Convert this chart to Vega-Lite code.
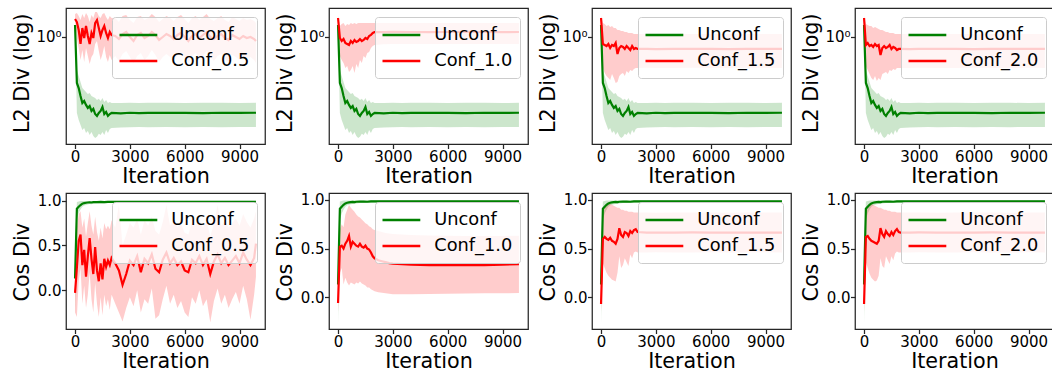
{
  "$schema": "https://vega.github.io/schema/vega-lite/v6.json",
  "background": "white",
  "padding": {"left": 10, "top": 7, "right": 0, "bottom": 0},
  "datasets": {
    "d": [
      {"m":"L2","s":"Unconf","x":0,"y":1.154,"lo":1.127,"hi":1.182},
      {"m":"L2","s":"Unconf","x":100,"y":0.578,"lo":0.404,"hi":0.675},
      {"m":"L2","s":"Unconf","x":200,"y":0.544,"lo":0.372,"hi":0.628},
      {"m":"L2","s":"Unconf","x":300,"y":0.495,"lo":0.350,"hi":0.585},
      {"m":"L2","s":"Unconf","x":400,"y":0.455,"lo":0.330,"hi":0.544},
      {"m":"L2","s":"Unconf","x":500,"y":0.466,"lo":0.338,"hi":0.531},
      {"m":"L2","s":"Unconf","x":600,"y":0.445,"lo":0.318,"hi":0.519},
      {"m":"L2","s":"Unconf","x":700,"y":0.429,"lo":0.326,"hi":0.507},
      {"m":"L2","s":"Unconf","x":800,"y":0.439,"lo":0.311,"hi":0.513},
      {"m":"L2","s":"Unconf","x":900,"y":0.414,"lo":0.322,"hi":0.495},
      {"m":"L2","s":"Unconf","x":1000,"y":0.424,"lo":0.307,"hi":0.489},
      {"m":"L2","s":"Unconf","x":1100,"y":0.399,"lo":0.300,"hi":0.483},
      {"m":"L2","s":"Unconf","x":1200,"y":0.390,"lo":0.304,"hi":0.472},
      {"m":"L2","s":"Unconf","x":1300,"y":0.404,"lo":0.315,"hi":0.478},
      {"m":"L2","s":"Unconf","x":1400,"y":0.414,"lo":0.311,"hi":0.466},
      {"m":"L2","s":"Unconf","x":1500,"y":0.434,"lo":0.322,"hi":0.483},
      {"m":"L2","s":"Unconf","x":1600,"y":0.399,"lo":0.311,"hi":0.461},
      {"m":"L2","s":"Unconf","x":1700,"y":0.409,"lo":0.330,"hi":0.472},
      {"m":"L2","s":"Unconf","x":1800,"y":0.390,"lo":0.318,"hi":0.455},
      {"m":"L2","s":"Unconf","x":1900,"y":0.399,"lo":0.334,"hi":0.461},
      {"m":"L2","s":"Unconf","x":2000,"y":0.404,"lo":0.338,"hi":0.455},
      {"m":"L2","s":"Unconf","x":2500,"y":0.402,"lo":0.340,"hi":0.455},
      {"m":"L2","s":"Unconf","x":3000,"y":0.405,"lo":0.341,"hi":0.456},
      {"m":"L2","s":"Unconf","x":3500,"y":0.403,"lo":0.342,"hi":0.455},
      {"m":"L2","s":"Unconf","x":4000,"y":0.404,"lo":0.341,"hi":0.456},
      {"m":"L2","s":"Unconf","x":5000,"y":0.405,"lo":0.342,"hi":0.456},
      {"m":"L2","s":"Unconf","x":6000,"y":0.404,"lo":0.341,"hi":0.455},
      {"m":"L2","s":"Unconf","x":7000,"y":0.403,"lo":0.342,"hi":0.456},
      {"m":"L2","s":"Unconf","x":8000,"y":0.405,"lo":0.341,"hi":0.456},
      {"m":"L2","s":"Unconf","x":9000,"y":0.404,"lo":0.342,"hi":0.455},
      {"m":"L2","s":"Unconf","x":9900,"y":0.405,"lo":0.342,"hi":0.456},

      {"m":"Cos","s":"Unconf","x":0,"y":0.13,"lo":-0.265,"hi":0.45},
      {"m":"Cos","s":"Unconf","x":100,"y":0.91,"lo":0.80,"hi":0.985},
      {"m":"Cos","s":"Unconf","x":200,"y":0.93,"lo":0.86,"hi":0.99},
      {"m":"Cos","s":"Unconf","x":300,"y":0.95,"lo":0.90,"hi":0.995},
      {"m":"Cos","s":"Unconf","x":400,"y":0.965,"lo":0.93,"hi":0.995},
      {"m":"Cos","s":"Unconf","x":500,"y":0.972,"lo":0.945,"hi":0.995},
      {"m":"Cos","s":"Unconf","x":600,"y":0.975,"lo":0.95,"hi":0.995},
      {"m":"Cos","s":"Unconf","x":700,"y":0.978,"lo":0.955,"hi":0.995},
      {"m":"Cos","s":"Unconf","x":800,"y":0.98,"lo":0.96,"hi":0.995},
      {"m":"Cos","s":"Unconf","x":900,"y":0.978,"lo":0.958,"hi":0.995},
      {"m":"Cos","s":"Unconf","x":1000,"y":0.982,"lo":0.965,"hi":0.996},
      {"m":"Cos","s":"Unconf","x":1200,"y":0.983,"lo":0.968,"hi":0.996},
      {"m":"Cos","s":"Unconf","x":1400,"y":0.984,"lo":0.97,"hi":0.996},
      {"m":"Cos","s":"Unconf","x":1600,"y":0.982,"lo":0.968,"hi":0.996},
      {"m":"Cos","s":"Unconf","x":1800,"y":0.985,"lo":0.972,"hi":0.997},
      {"m":"Cos","s":"Unconf","x":2000,"y":0.985,"lo":0.973,"hi":0.997},
      {"m":"Cos","s":"Unconf","x":3000,"y":0.985,"lo":0.973,"hi":0.997},
      {"m":"Cos","s":"Unconf","x":5000,"y":0.985,"lo":0.973,"hi":0.997},
      {"m":"Cos","s":"Unconf","x":7000,"y":0.985,"lo":0.973,"hi":0.997},
      {"m":"Cos","s":"Unconf","x":9900,"y":0.985,"lo":0.973,"hi":0.997},

      {"m":"L2","s":"Conf_0.5","x":0,"y":1.239,"lo":1.195,"hi":1.315},
      {"m":"L2","s":"Conf_0.5","x":100,"y":1.195,"lo":0.988,"hi":1.331},
      {"m":"L2","s":"Conf_0.5","x":200,"y":1.087,"lo":0.877,"hi":1.284},
      {"m":"L2","s":"Conf_0.5","x":300,"y":0.920,"lo":0.760,"hi":1.224},
      {"m":"L2","s":"Conf_0.5","x":400,"y":1.113,"lo":0.856,"hi":1.315},
      {"m":"L2","s":"Conf_0.5","x":500,"y":0.988,"lo":0.742,"hi":1.254},
      {"m":"L2","s":"Conf_0.5","x":600,"y":1.140,"lo":0.877,"hi":1.331},
      {"m":"L2","s":"Conf_0.5","x":700,"y":1.012,"lo":0.797,"hi":1.284},
      {"m":"L2","s":"Conf_0.5","x":800,"y":0.920,"lo":0.725,"hi":1.195},
      {"m":"L2","s":"Conf_0.5","x":900,"y":1.049,"lo":0.788,"hi":1.299},
      {"m":"L2","s":"Conf_0.5","x":1000,"y":0.988,"lo":0.816,"hi":1.254},
      {"m":"L2","s":"Conf_0.5","x":1100,"y":1.181,"lo":0.920,"hi":1.347},
      {"m":"L2","s":"Conf_0.5","x":1200,"y":1.224,"lo":0.953,"hi":1.347},
      {"m":"L2","s":"Conf_0.5","x":1300,"y":1.113,"lo":0.846,"hi":1.284},
      {"m":"L2","s":"Conf_0.5","x":1400,"y":1.012,"lo":0.760,"hi":1.254},
      {"m":"L2","s":"Conf_0.5","x":1500,"y":1.087,"lo":0.816,"hi":1.315},
      {"m":"L2","s":"Conf_0.5","x":1600,"y":1.140,"lo":0.898,"hi":1.331},
      {"m":"L2","s":"Conf_0.5","x":1700,"y":1.049,"lo":0.788,"hi":1.269},
      {"m":"L2","s":"Conf_0.5","x":1800,"y":0.988,"lo":0.742,"hi":1.224},
      {"m":"L2","s":"Conf_0.5","x":1900,"y":1.061,"lo":0.807,"hi":1.284},
      {"m":"L2","s":"Conf_0.5","x":2000,"y":1.024,"lo":0.760,"hi":1.254},
      {"m":"L2","s":"Conf_0.5","x":2200,"y":1.012,"lo":0.797,"hi":1.254},
      {"m":"L2","s":"Conf_0.5","x":2400,"y":0.976,"lo":0.751,"hi":1.195},
      {"m":"L2","s":"Conf_0.5","x":2600,"y":1.036,"lo":0.816,"hi":1.284},
      {"m":"L2","s":"Conf_0.5","x":2800,"y":1.061,"lo":0.846,"hi":1.299},
      {"m":"L2","s":"Conf_0.5","x":3000,"y":1.000,"lo":0.788,"hi":1.224},
      {"m":"L2","s":"Conf_0.5","x":3200,"y":0.953,"lo":0.733,"hi":1.181},
      {"m":"L2","s":"Conf_0.5","x":3400,"y":1.024,"lo":0.797,"hi":1.269},
      {"m":"L2","s":"Conf_0.5","x":3600,"y":1.049,"lo":0.826,"hi":1.284},
      {"m":"L2","s":"Conf_0.5","x":3800,"y":0.988,"lo":0.760,"hi":1.224},
      {"m":"L2","s":"Conf_0.5","x":4000,"y":1.012,"lo":0.797,"hi":1.254},
      {"m":"L2","s":"Conf_0.5","x":4200,"y":1.061,"lo":0.856,"hi":1.315},
      {"m":"L2","s":"Conf_0.5","x":4400,"y":1.024,"lo":0.807,"hi":1.269},
      {"m":"L2","s":"Conf_0.5","x":4600,"y":0.965,"lo":0.742,"hi":1.195},
      {"m":"L2","s":"Conf_0.5","x":4800,"y":1.000,"lo":0.788,"hi":1.239},
      {"m":"L2","s":"Conf_0.5","x":5000,"y":1.036,"lo":0.816,"hi":1.284},
      {"m":"L2","s":"Conf_0.5","x":5200,"y":1.012,"lo":0.788,"hi":1.254},
      {"m":"L2","s":"Conf_0.5","x":5400,"y":0.976,"lo":0.760,"hi":1.210},
      {"m":"L2","s":"Conf_0.5","x":5600,"y":1.024,"lo":0.797,"hi":1.269},
      {"m":"L2","s":"Conf_0.5","x":5800,"y":1.049,"lo":0.836,"hi":1.299},
      {"m":"L2","s":"Conf_0.5","x":6000,"y":1.000,"lo":0.778,"hi":1.239},
      {"m":"L2","s":"Conf_0.5","x":6200,"y":0.953,"lo":0.733,"hi":1.181},
      {"m":"L2","s":"Conf_0.5","x":6400,"y":1.012,"lo":0.797,"hi":1.254},
      {"m":"L2","s":"Conf_0.5","x":6600,"y":1.036,"lo":0.826,"hi":1.284},
      {"m":"L2","s":"Conf_0.5","x":6800,"y":0.988,"lo":0.769,"hi":1.224},
      {"m":"L2","s":"Conf_0.5","x":7000,"y":1.024,"lo":0.797,"hi":1.269},
      {"m":"L2","s":"Conf_0.5","x":7200,"y":1.061,"lo":0.846,"hi":1.315},
      {"m":"L2","s":"Conf_0.5","x":7400,"y":1.000,"lo":0.788,"hi":1.239},
      {"m":"L2","s":"Conf_0.5","x":7600,"y":0.976,"lo":0.751,"hi":1.210},
      {"m":"L2","s":"Conf_0.5","x":7800,"y":1.012,"lo":0.797,"hi":1.254},
      {"m":"L2","s":"Conf_0.5","x":8000,"y":1.036,"lo":0.816,"hi":1.284},
      {"m":"L2","s":"Conf_0.5","x":8200,"y":0.988,"lo":0.769,"hi":1.224},
      {"m":"L2","s":"Conf_0.5","x":8400,"y":0.965,"lo":0.742,"hi":1.195},
      {"m":"L2","s":"Conf_0.5","x":8600,"y":1.024,"lo":0.807,"hi":1.269},
      {"m":"L2","s":"Conf_0.5","x":8800,"y":1.000,"lo":0.788,"hi":1.239},
      {"m":"L2","s":"Conf_0.5","x":9000,"y":0.976,"lo":0.760,"hi":1.210},
      {"m":"L2","s":"Conf_0.5","x":9200,"y":1.012,"lo":0.797,"hi":1.254},
      {"m":"L2","s":"Conf_0.5","x":9400,"y":0.988,"lo":0.778,"hi":1.224},
      {"m":"L2","s":"Conf_0.5","x":9600,"y":1.000,"lo":0.788,"hi":1.239},
      {"m":"L2","s":"Conf_0.5","x":9800,"y":0.976,"lo":0.760,"hi":1.210},
      {"m":"L2","s":"Conf_0.5","x":9900,"y":0.953,"lo":0.733,"hi":1.181},

      {"m":"L2","s":"Conf_1.0","x":0,"y":1.254,"lo":1.224,"hi":1.284},
      {"m":"L2","s":"Conf_1.0","x":100,"y":0.988,"lo":0.797,"hi":1.140},
      {"m":"L2","s":"Conf_1.0","x":200,"y":0.953,"lo":0.760,"hi":1.167},
      {"m":"L2","s":"Conf_1.0","x":300,"y":0.976,"lo":0.733,"hi":1.181},
      {"m":"L2","s":"Conf_1.0","x":400,"y":0.931,"lo":0.691,"hi":1.140},
      {"m":"L2","s":"Conf_1.0","x":500,"y":0.920,"lo":0.708,"hi":1.167},
      {"m":"L2","s":"Conf_1.0","x":600,"y":0.909,"lo":0.659,"hi":1.153},
      {"m":"L2","s":"Conf_1.0","x":700,"y":0.953,"lo":0.675,"hi":1.181},
      {"m":"L2","s":"Conf_1.0","x":800,"y":0.931,"lo":0.708,"hi":1.167},
      {"m":"L2","s":"Conf_1.0","x":900,"y":0.965,"lo":0.651,"hi":1.181},
      {"m":"L2","s":"Conf_1.0","x":1000,"y":0.942,"lo":0.725,"hi":1.167},
      {"m":"L2","s":"Conf_1.0","x":1100,"y":0.953,"lo":0.691,"hi":1.181},
      {"m":"L2","s":"Conf_1.0","x":1200,"y":0.976,"lo":0.760,"hi":1.181},
      {"m":"L2","s":"Conf_1.0","x":1300,"y":0.953,"lo":0.733,"hi":1.181},
      {"m":"L2","s":"Conf_1.0","x":1400,"y":0.965,"lo":0.797,"hi":1.181},
      {"m":"L2","s":"Conf_1.0","x":1500,"y":0.988,"lo":0.778,"hi":1.181},
      {"m":"L2","s":"Conf_1.0","x":1600,"y":0.976,"lo":0.826,"hi":1.181},
      {"m":"L2","s":"Conf_1.0","x":1700,"y":1.012,"lo":0.836,"hi":1.181},
      {"m":"L2","s":"Conf_1.0","x":1800,"y":1.024,"lo":0.877,"hi":1.181},
      {"m":"L2","s":"Conf_1.0","x":1900,"y":1.049,"lo":0.898,"hi":1.181},
      {"m":"L2","s":"Conf_1.0","x":2000,"y":1.061,"lo":0.909,"hi":1.181},
      {"m":"L2","s":"Conf_1.0","x":2500,"y":1.060,"lo":0.918,"hi":1.180},
      {"m":"L2","s":"Conf_1.0","x":3000,"y":1.062,"lo":0.920,"hi":1.181},
      {"m":"L2","s":"Conf_1.0","x":4000,"y":1.061,"lo":0.920,"hi":1.181},
      {"m":"L2","s":"Conf_1.0","x":5000,"y":1.060,"lo":0.919,"hi":1.181},
      {"m":"L2","s":"Conf_1.0","x":6000,"y":1.061,"lo":0.920,"hi":1.182},
      {"m":"L2","s":"Conf_1.0","x":7000,"y":1.062,"lo":0.920,"hi":1.181},
      {"m":"L2","s":"Conf_1.0","x":8000,"y":1.061,"lo":0.919,"hi":1.181},
      {"m":"L2","s":"Conf_1.0","x":9000,"y":1.060,"lo":0.920,"hi":1.181},
      {"m":"L2","s":"Conf_1.0","x":9900,"y":1.061,"lo":0.920,"hi":1.181},

      {"m":"L2","s":"Conf_1.5","x":0,"y":1.254,"lo":1.224,"hi":1.284},
      {"m":"L2","s":"Conf_1.5","x":100,"y":0.920,"lo":0.691,"hi":1.181},
      {"m":"L2","s":"Conf_1.5","x":200,"y":0.909,"lo":0.651,"hi":1.167},
      {"m":"L2","s":"Conf_1.5","x":300,"y":0.898,"lo":0.628,"hi":1.140},
      {"m":"L2","s":"Conf_1.5","x":400,"y":0.920,"lo":0.613,"hi":1.153},
      {"m":"L2","s":"Conf_1.5","x":500,"y":0.877,"lo":0.599,"hi":1.126},
      {"m":"L2","s":"Conf_1.5","x":600,"y":0.909,"lo":0.643,"hi":1.140},
      {"m":"L2","s":"Conf_1.5","x":700,"y":0.898,"lo":0.613,"hi":1.113},
      {"m":"L2","s":"Conf_1.5","x":800,"y":0.931,"lo":0.578,"hi":1.113},
      {"m":"L2","s":"Conf_1.5","x":900,"y":0.816,"lo":0.585,"hi":1.087},
      {"m":"L2","s":"Conf_1.5","x":1000,"y":0.877,"lo":0.628,"hi":1.087},
      {"m":"L2","s":"Conf_1.5","x":1100,"y":0.898,"lo":0.643,"hi":1.074},
      {"m":"L2","s":"Conf_1.5","x":1200,"y":0.888,"lo":0.651,"hi":1.074},
      {"m":"L2","s":"Conf_1.5","x":1300,"y":0.867,"lo":0.628,"hi":1.061},
      {"m":"L2","s":"Conf_1.5","x":1400,"y":0.898,"lo":0.667,"hi":1.061},
      {"m":"L2","s":"Conf_1.5","x":1500,"y":0.877,"lo":0.651,"hi":1.049},
      {"m":"L2","s":"Conf_1.5","x":1600,"y":0.856,"lo":0.675,"hi":1.049},
      {"m":"L2","s":"Conf_1.5","x":1700,"y":0.898,"lo":0.667,"hi":1.049},
      {"m":"L2","s":"Conf_1.5","x":1800,"y":0.867,"lo":0.683,"hi":1.036},
      {"m":"L2","s":"Conf_1.5","x":1900,"y":0.877,"lo":0.691,"hi":1.036},
      {"m":"L2","s":"Conf_1.5","x":2000,"y":0.867,"lo":0.691,"hi":1.036},
      {"m":"L2","s":"Conf_1.5","x":2500,"y":0.868,"lo":0.692,"hi":1.036},
      {"m":"L2","s":"Conf_1.5","x":3000,"y":0.866,"lo":0.691,"hi":1.035},
      {"m":"L2","s":"Conf_1.5","x":4000,"y":0.867,"lo":0.691,"hi":1.036},
      {"m":"L2","s":"Conf_1.5","x":5000,"y":0.868,"lo":0.692,"hi":1.036},
      {"m":"L2","s":"Conf_1.5","x":6000,"y":0.867,"lo":0.691,"hi":1.036},
      {"m":"L2","s":"Conf_1.5","x":7000,"y":0.866,"lo":0.691,"hi":1.035},
      {"m":"L2","s":"Conf_1.5","x":8000,"y":0.867,"lo":0.692,"hi":1.036},
      {"m":"L2","s":"Conf_1.5","x":9000,"y":0.867,"lo":0.691,"hi":1.036},
      {"m":"L2","s":"Conf_1.5","x":9900,"y":0.867,"lo":0.691,"hi":1.036},

      {"m":"L2","s":"Conf_2.0","x":0,"y":1.254,"lo":1.224,"hi":1.284},
      {"m":"L2","s":"Conf_2.0","x":100,"y":0.909,"lo":0.708,"hi":1.167},
      {"m":"L2","s":"Conf_2.0","x":200,"y":0.931,"lo":0.675,"hi":1.153},
      {"m":"L2","s":"Conf_2.0","x":300,"y":0.898,"lo":0.643,"hi":1.140},
      {"m":"L2","s":"Conf_2.0","x":400,"y":0.909,"lo":0.613,"hi":1.140},
      {"m":"L2","s":"Conf_2.0","x":500,"y":0.888,"lo":0.599,"hi":1.113},
      {"m":"L2","s":"Conf_2.0","x":600,"y":0.920,"lo":0.628,"hi":1.126},
      {"m":"L2","s":"Conf_2.0","x":700,"y":0.898,"lo":0.592,"hi":1.113},
      {"m":"L2","s":"Conf_2.0","x":800,"y":0.909,"lo":0.613,"hi":1.100},
      {"m":"L2","s":"Conf_2.0","x":900,"y":0.807,"lo":0.599,"hi":1.087},
      {"m":"L2","s":"Conf_2.0","x":1000,"y":0.877,"lo":0.643,"hi":1.087},
      {"m":"L2","s":"Conf_2.0","x":1100,"y":0.898,"lo":0.651,"hi":1.074},
      {"m":"L2","s":"Conf_2.0","x":1200,"y":0.877,"lo":0.659,"hi":1.061},
      {"m":"L2","s":"Conf_2.0","x":1300,"y":0.888,"lo":0.643,"hi":1.061},
      {"m":"L2","s":"Conf_2.0","x":1400,"y":0.909,"lo":0.675,"hi":1.049},
      {"m":"L2","s":"Conf_2.0","x":1500,"y":0.867,"lo":0.667,"hi":1.049},
      {"m":"L2","s":"Conf_2.0","x":1600,"y":0.888,"lo":0.683,"hi":1.049},
      {"m":"L2","s":"Conf_2.0","x":1700,"y":0.877,"lo":0.675,"hi":1.036},
      {"m":"L2","s":"Conf_2.0","x":1800,"y":0.856,"lo":0.691,"hi":1.036},
      {"m":"L2","s":"Conf_2.0","x":1900,"y":0.867,"lo":0.691,"hi":1.036},
      {"m":"L2","s":"Conf_2.0","x":2000,"y":0.867,"lo":0.691,"hi":1.036},
      {"m":"L2","s":"Conf_2.0","x":2500,"y":0.866,"lo":0.691,"hi":1.035},
      {"m":"L2","s":"Conf_2.0","x":3000,"y":0.867,"lo":0.692,"hi":1.036},
      {"m":"L2","s":"Conf_2.0","x":4000,"y":0.868,"lo":0.691,"hi":1.036},
      {"m":"L2","s":"Conf_2.0","x":5000,"y":0.867,"lo":0.691,"hi":1.036},
      {"m":"L2","s":"Conf_2.0","x":6000,"y":0.866,"lo":0.692,"hi":1.035},
      {"m":"L2","s":"Conf_2.0","x":7000,"y":0.867,"lo":0.691,"hi":1.036},
      {"m":"L2","s":"Conf_2.0","x":8000,"y":0.868,"lo":0.691,"hi":1.036},
      {"m":"L2","s":"Conf_2.0","x":9000,"y":0.867,"lo":0.692,"hi":1.036},
      {"m":"L2","s":"Conf_2.0","x":9900,"y":0.867,"lo":0.691,"hi":1.036},

      {"m":"Cos","s":"Conf_0.5","x":0,"y":-0.03,"lo":-0.25,"hi":0.15},
      {"m":"Cos","s":"Conf_0.5","x":100,"y":0.25,"lo":-0.30,"hi":0.70},
      {"m":"Cos","s":"Conf_0.5","x":200,"y":0.55,"lo":0.10,"hi":0.85},
      {"m":"Cos","s":"Conf_0.5","x":300,"y":0.62,"lo":0.25,"hi":0.88},
      {"m":"Cos","s":"Conf_0.5","x":400,"y":0.28,"lo":-0.15,"hi":0.70},
      {"m":"Cos","s":"Conf_0.5","x":500,"y":0.45,"lo":0.05,"hi":0.80},
      {"m":"Cos","s":"Conf_0.5","x":600,"y":0.15,"lo":-0.20,"hi":0.60},
      {"m":"Cos","s":"Conf_0.5","x":700,"y":0.38,"lo":-0.05,"hi":0.75},
      {"m":"Cos","s":"Conf_0.5","x":800,"y":0.58,"lo":0.20,"hi":0.88},
      {"m":"Cos","s":"Conf_0.5","x":900,"y":0.35,"lo":-0.10,"hi":0.72},
      {"m":"Cos","s":"Conf_0.5","x":1000,"y":0.18,"lo":-0.25,"hi":0.62},
      {"m":"Cos","s":"Conf_0.5","x":1100,"y":0.48,"lo":0.08,"hi":0.82},
      {"m":"Cos","s":"Conf_0.5","x":1200,"y":0.22,"lo":-0.15,"hi":0.65},
      {"m":"Cos","s":"Conf_0.5","x":1300,"y":0.10,"lo":-0.30,"hi":0.55},
      {"m":"Cos","s":"Conf_0.5","x":1400,"y":0.30,"lo":-0.08,"hi":0.70},
      {"m":"Cos","s":"Conf_0.5","x":1500,"y":0.12,"lo":-0.28,"hi":0.58},
      {"m":"Cos","s":"Conf_0.5","x":1600,"y":0.35,"lo":-0.05,"hi":0.75},
      {"m":"Cos","s":"Conf_0.5","x":1700,"y":0.26,"lo":-0.18,"hi":0.68},
      {"m":"Cos","s":"Conf_0.5","x":1800,"y":0.33,"lo":-0.10,"hi":0.72},
      {"m":"Cos","s":"Conf_0.5","x":1900,"y":0.28,"lo":-0.22,"hi":0.68},
      {"m":"Cos","s":"Conf_0.5","x":2000,"y":0.36,"lo":-0.05,"hi":0.78},
      {"m":"Cos","s":"Conf_0.5","x":2200,"y":0.30,"lo":-0.15,"hi":0.70},
      {"m":"Cos","s":"Conf_0.5","x":2400,"y":0.22,"lo":-0.25,"hi":0.95},
      {"m":"Cos","s":"Conf_0.5","x":2600,"y":0.06,"lo":-0.35,"hi":0.50},
      {"m":"Cos","s":"Conf_0.5","x":2800,"y":0.18,"lo":-0.20,"hi":0.62},
      {"m":"Cos","s":"Conf_0.5","x":3000,"y":0.33,"lo":-0.08,"hi":0.75},
      {"m":"Cos","s":"Conf_0.5","x":3200,"y":0.28,"lo":-0.18,"hi":0.70},
      {"m":"Cos","s":"Conf_0.5","x":3400,"y":0.38,"lo":0.00,"hi":0.80},
      {"m":"Cos","s":"Conf_0.5","x":3600,"y":0.20,"lo":-0.25,"hi":0.62},
      {"m":"Cos","s":"Conf_0.5","x":3800,"y":0.35,"lo":-0.10,"hi":0.78},
      {"m":"Cos","s":"Conf_0.5","x":4000,"y":0.30,"lo":-0.15,"hi":0.72},
      {"m":"Cos","s":"Conf_0.5","x":4200,"y":0.40,"lo":0.02,"hi":0.82},
      {"m":"Cos","s":"Conf_0.5","x":4400,"y":0.24,"lo":-0.32,"hi":0.66},
      {"m":"Cos","s":"Conf_0.5","x":4600,"y":0.20,"lo":-0.28,"hi":0.62},
      {"m":"Cos","s":"Conf_0.5","x":4800,"y":0.34,"lo":-0.10,"hi":0.76},
      {"m":"Cos","s":"Conf_0.5","x":5000,"y":0.42,"lo":0.05,"hi":0.95},
      {"m":"Cos","s":"Conf_0.5","x":5200,"y":0.30,"lo":-0.15,"hi":0.72},
      {"m":"Cos","s":"Conf_0.5","x":5400,"y":0.36,"lo":-0.05,"hi":0.78},
      {"m":"Cos","s":"Conf_0.5","x":5600,"y":0.28,"lo":-0.20,"hi":0.70},
      {"m":"Cos","s":"Conf_0.5","x":5800,"y":0.32,"lo":-0.12,"hi":0.74},
      {"m":"Cos","s":"Conf_0.5","x":6000,"y":0.22,"lo":-0.25,"hi":0.64},
      {"m":"Cos","s":"Conf_0.5","x":6200,"y":0.20,"lo":-0.30,"hi":0.62},
      {"m":"Cos","s":"Conf_0.5","x":6400,"y":0.34,"lo":-0.08,"hi":0.76},
      {"m":"Cos","s":"Conf_0.5","x":6600,"y":0.30,"lo":-0.15,"hi":0.72},
      {"m":"Cos","s":"Conf_0.5","x":6800,"y":0.38,"lo":0.00,"hi":0.80},
      {"m":"Cos","s":"Conf_0.5","x":7000,"y":0.28,"lo":-0.18,"hi":0.70},
      {"m":"Cos","s":"Conf_0.5","x":7200,"y":0.35,"lo":-0.10,"hi":0.78},
      {"m":"Cos","s":"Conf_0.5","x":7400,"y":0.18,"lo":-0.36,"hi":0.60},
      {"m":"Cos","s":"Conf_0.5","x":7600,"y":0.32,"lo":-0.12,"hi":0.74},
      {"m":"Cos","s":"Conf_0.5","x":7800,"y":0.40,"lo":0.02,"hi":0.95},
      {"m":"Cos","s":"Conf_0.5","x":8000,"y":0.30,"lo":-0.15,"hi":0.72},
      {"m":"Cos","s":"Conf_0.5","x":8200,"y":0.36,"lo":-0.05,"hi":0.78},
      {"m":"Cos","s":"Conf_0.5","x":8400,"y":0.28,"lo":-0.20,"hi":0.70},
      {"m":"Cos","s":"Conf_0.5","x":8600,"y":0.33,"lo":-0.10,"hi":0.75},
      {"m":"Cos","s":"Conf_0.5","x":8800,"y":0.38,"lo":-0.02,"hi":0.80},
      {"m":"Cos","s":"Conf_0.5","x":9000,"y":0.30,"lo":-0.15,"hi":0.72},
      {"m":"Cos","s":"Conf_0.5","x":9200,"y":0.42,"lo":0.05,"hi":0.85},
      {"m":"Cos","s":"Conf_0.5","x":9400,"y":0.34,"lo":-0.10,"hi":0.76},
      {"m":"Cos","s":"Conf_0.5","x":9600,"y":0.28,"lo":-0.33,"hi":0.70},
      {"m":"Cos","s":"Conf_0.5","x":9800,"y":0.36,"lo":-0.05,"hi":0.80},
      {"m":"Cos","s":"Conf_0.5","x":9900,"y":0.52,"lo":0.15,"hi":0.88},

      {"m":"Cos","s":"Conf_1.0","x":0,"y":-0.06,"lo":-0.15,"hi":0.0},
      {"m":"Cos","s":"Conf_1.0","x":100,"y":0.52,"lo":0.25,"hi":0.70},
      {"m":"Cos","s":"Conf_1.0","x":200,"y":0.53,"lo":0.30,"hi":0.75},
      {"m":"Cos","s":"Conf_1.0","x":300,"y":0.50,"lo":0.13,"hi":0.72},
      {"m":"Cos","s":"Conf_1.0","x":400,"y":0.55,"lo":0.20,"hi":0.85},
      {"m":"Cos","s":"Conf_1.0","x":500,"y":0.58,"lo":0.15,"hi":0.90},
      {"m":"Cos","s":"Conf_1.0","x":600,"y":0.63,"lo":0.12,"hi":0.95},
      {"m":"Cos","s":"Conf_1.0","x":700,"y":0.52,"lo":0.15,"hi":0.92},
      {"m":"Cos","s":"Conf_1.0","x":800,"y":0.57,"lo":0.14,"hi":0.90},
      {"m":"Cos","s":"Conf_1.0","x":900,"y":0.55,"lo":0.13,"hi":0.88},
      {"m":"Cos","s":"Conf_1.0","x":1000,"y":0.53,"lo":0.15,"hi":0.85},
      {"m":"Cos","s":"Conf_1.0","x":1100,"y":0.52,"lo":0.14,"hi":0.83},
      {"m":"Cos","s":"Conf_1.0","x":1200,"y":0.55,"lo":0.16,"hi":0.82},
      {"m":"Cos","s":"Conf_1.0","x":1300,"y":0.52,"lo":0.14,"hi":0.80},
      {"m":"Cos","s":"Conf_1.0","x":1400,"y":0.51,"lo":0.13,"hi":0.78},
      {"m":"Cos","s":"Conf_1.0","x":1500,"y":0.53,"lo":0.12,"hi":0.76},
      {"m":"Cos","s":"Conf_1.0","x":1600,"y":0.50,"lo":0.10,"hi":0.75},
      {"m":"Cos","s":"Conf_1.0","x":1700,"y":0.49,"lo":0.10,"hi":0.73},
      {"m":"Cos","s":"Conf_1.0","x":1800,"y":0.46,"lo":0.08,"hi":0.72},
      {"m":"Cos","s":"Conf_1.0","x":1900,"y":0.42,"lo":0.07,"hi":0.70},
      {"m":"Cos","s":"Conf_1.0","x":2000,"y":0.40,"lo":0.06,"hi":0.69},
      {"m":"Cos","s":"Conf_1.0","x":2200,"y":0.38,"lo":0.05,"hi":0.68},
      {"m":"Cos","s":"Conf_1.0","x":2400,"y":0.37,"lo":0.045,"hi":0.67},
      {"m":"Cos","s":"Conf_1.0","x":2600,"y":0.36,"lo":0.04,"hi":0.66},
      {"m":"Cos","s":"Conf_1.0","x":2800,"y":0.35,"lo":0.035,"hi":0.655},
      {"m":"Cos","s":"Conf_1.0","x":3000,"y":0.345,"lo":0.03,"hi":0.65},
      {"m":"Cos","s":"Conf_1.0","x":3500,"y":0.34,"lo":0.03,"hi":0.645},
      {"m":"Cos","s":"Conf_1.0","x":4000,"y":0.335,"lo":0.03,"hi":0.64},
      {"m":"Cos","s":"Conf_1.0","x":5000,"y":0.33,"lo":0.032,"hi":0.635},
      {"m":"Cos","s":"Conf_1.0","x":6000,"y":0.33,"lo":0.035,"hi":0.632},
      {"m":"Cos","s":"Conf_1.0","x":7000,"y":0.33,"lo":0.037,"hi":0.63},
      {"m":"Cos","s":"Conf_1.0","x":8000,"y":0.33,"lo":0.04,"hi":0.63},
      {"m":"Cos","s":"Conf_1.0","x":9000,"y":0.335,"lo":0.04,"hi":0.63},
      {"m":"Cos","s":"Conf_1.0","x":9900,"y":0.34,"lo":0.042,"hi":0.632},

      {"m":"Cos","s":"Conf_1.5","x":0,"y":-0.07,"lo":-0.15,"hi":0.0},
      {"m":"Cos","s":"Conf_1.5","x":100,"y":0.60,"lo":0.35,"hi":0.85},
      {"m":"Cos","s":"Conf_1.5","x":200,"y":0.62,"lo":0.30,"hi":0.92},
      {"m":"Cos","s":"Conf_1.5","x":300,"y":0.60,"lo":0.25,"hi":0.94},
      {"m":"Cos","s":"Conf_1.5","x":400,"y":0.59,"lo":0.22,"hi":0.96},
      {"m":"Cos","s":"Conf_1.5","x":500,"y":0.61,"lo":0.20,"hi":0.96},
      {"m":"Cos","s":"Conf_1.5","x":600,"y":0.58,"lo":0.18,"hi":0.95},
      {"m":"Cos","s":"Conf_1.5","x":700,"y":0.57,"lo":0.17,"hi":0.94},
      {"m":"Cos","s":"Conf_1.5","x":800,"y":0.55,"lo":0.16,"hi":0.93},
      {"m":"Cos","s":"Conf_1.5","x":900,"y":0.60,"lo":0.25,"hi":0.92},
      {"m":"Cos","s":"Conf_1.5","x":1000,"y":0.71,"lo":0.42,"hi":0.92},
      {"m":"Cos","s":"Conf_1.5","x":1100,"y":0.64,"lo":0.30,"hi":0.90},
      {"m":"Cos","s":"Conf_1.5","x":1200,"y":0.62,"lo":0.33,"hi":0.90},
      {"m":"Cos","s":"Conf_1.5","x":1300,"y":0.67,"lo":0.40,"hi":0.89},
      {"m":"Cos","s":"Conf_1.5","x":1400,"y":0.66,"lo":0.36,"hi":0.89},
      {"m":"Cos","s":"Conf_1.5","x":1500,"y":0.63,"lo":0.32,"hi":0.88},
      {"m":"Cos","s":"Conf_1.5","x":1600,"y":0.68,"lo":0.44,"hi":0.88},
      {"m":"Cos","s":"Conf_1.5","x":1700,"y":0.66,"lo":0.40,"hi":0.88},
      {"m":"Cos","s":"Conf_1.5","x":1800,"y":0.69,"lo":0.46,"hi":0.87},
      {"m":"Cos","s":"Conf_1.5","x":1900,"y":0.70,"lo":0.47,"hi":0.87},
      {"m":"Cos","s":"Conf_1.5","x":2000,"y":0.67,"lo":0.46,"hi":0.87},
      {"m":"Cos","s":"Conf_1.5","x":2500,"y":0.665,"lo":0.46,"hi":0.87},
      {"m":"Cos","s":"Conf_1.5","x":3000,"y":0.664,"lo":0.461,"hi":0.869},
      {"m":"Cos","s":"Conf_1.5","x":4000,"y":0.665,"lo":0.46,"hi":0.87},
      {"m":"Cos","s":"Conf_1.5","x":5000,"y":0.666,"lo":0.46,"hi":0.87},
      {"m":"Cos","s":"Conf_1.5","x":6000,"y":0.665,"lo":0.461,"hi":0.87},
      {"m":"Cos","s":"Conf_1.5","x":7000,"y":0.664,"lo":0.46,"hi":0.869},
      {"m":"Cos","s":"Conf_1.5","x":8000,"y":0.665,"lo":0.46,"hi":0.87},
      {"m":"Cos","s":"Conf_1.5","x":9000,"y":0.665,"lo":0.461,"hi":0.87},
      {"m":"Cos","s":"Conf_1.5","x":9900,"y":0.665,"lo":0.46,"hi":0.87},

      {"m":"Cos","s":"Conf_2.0","x":0,"y":-0.07,"lo":-0.15,"hi":0.0},
      {"m":"Cos","s":"Conf_2.0","x":100,"y":0.62,"lo":0.36,"hi":0.86},
      {"m":"Cos","s":"Conf_2.0","x":200,"y":0.63,"lo":0.30,"hi":0.92},
      {"m":"Cos","s":"Conf_2.0","x":300,"y":0.60,"lo":0.24,"hi":0.95},
      {"m":"Cos","s":"Conf_2.0","x":400,"y":0.58,"lo":0.20,"hi":0.96},
      {"m":"Cos","s":"Conf_2.0","x":500,"y":0.57,"lo":0.18,"hi":0.95},
      {"m":"Cos","s":"Conf_2.0","x":600,"y":0.56,"lo":0.16,"hi":0.94},
      {"m":"Cos","s":"Conf_2.0","x":700,"y":0.55,"lo":0.17,"hi":0.93},
      {"m":"Cos","s":"Conf_2.0","x":800,"y":0.58,"lo":0.22,"hi":0.92},
      {"m":"Cos","s":"Conf_2.0","x":900,"y":0.71,"lo":0.40,"hi":0.92},
      {"m":"Cos","s":"Conf_2.0","x":1000,"y":0.65,"lo":0.32,"hi":0.91},
      {"m":"Cos","s":"Conf_2.0","x":1100,"y":0.62,"lo":0.30,"hi":0.90},
      {"m":"Cos","s":"Conf_2.0","x":1200,"y":0.68,"lo":0.42,"hi":0.90},
      {"m":"Cos","s":"Conf_2.0","x":1300,"y":0.65,"lo":0.38,"hi":0.89},
      {"m":"Cos","s":"Conf_2.0","x":1400,"y":0.63,"lo":0.34,"hi":0.89},
      {"m":"Cos","s":"Conf_2.0","x":1500,"y":0.67,"lo":0.42,"hi":0.88},
      {"m":"Cos","s":"Conf_2.0","x":1600,"y":0.64,"lo":0.38,"hi":0.88},
      {"m":"Cos","s":"Conf_2.0","x":1700,"y":0.68,"lo":0.45,"hi":0.88},
      {"m":"Cos","s":"Conf_2.0","x":1800,"y":0.70,"lo":0.47,"hi":0.87},
      {"m":"Cos","s":"Conf_2.0","x":1900,"y":0.67,"lo":0.46,"hi":0.87},
      {"m":"Cos","s":"Conf_2.0","x":2000,"y":0.665,"lo":0.46,"hi":0.87},
      {"m":"Cos","s":"Conf_2.0","x":2500,"y":0.665,"lo":0.46,"hi":0.87},
      {"m":"Cos","s":"Conf_2.0","x":3000,"y":0.666,"lo":0.461,"hi":0.87},
      {"m":"Cos","s":"Conf_2.0","x":4000,"y":0.665,"lo":0.46,"hi":0.869},
      {"m":"Cos","s":"Conf_2.0","x":5000,"y":0.664,"lo":0.46,"hi":0.87},
      {"m":"Cos","s":"Conf_2.0","x":6000,"y":0.665,"lo":0.461,"hi":0.87},
      {"m":"Cos","s":"Conf_2.0","x":7000,"y":0.666,"lo":0.46,"hi":0.87},
      {"m":"Cos","s":"Conf_2.0","x":8000,"y":0.665,"lo":0.46,"hi":0.869},
      {"m":"Cos","s":"Conf_2.0","x":9000,"y":0.664,"lo":0.461,"hi":0.87},
      {"m":"Cos","s":"Conf_2.0","x":9900,"y":0.665,"lo":0.46,"hi":0.87}
    ]
  },
  "columns": 4,
  "spacing": {"row": 49, "column": 64},
  "bounds": "flush",
  "resolve": {
    "scale": {"x": "independent", "y": "independent", "color": "independent", "fill": "independent"},
    "legend": {"color": "independent"}
  },
  "concat": [
    {
      "width": 199, "height": 136,
      "data": {"name": "d"},
      "transform": [{"filter": {"field": "m", "equal": "L2"}}, {"filter": {"field": "s", "oneOf": ["Unconf", "Conf_0.5"]}}],
      "encoding": {"x": {"field": "x", "type": "quantitative", "scale": {"domain": [-495, 10395], "nice": false, "zero": false}, "axis": {"title": "Iteration", "values": [0, 3000, 6000, 9000], "format": "d"}}},
      "layer": [
        {"mark": {"type": "area", "fillOpacity": 0.2}, "encoding": {"y": {"field": "lo", "type": "quantitative", "scale": {"type": "log", "domain": [0.279, 1.413], "nice": false}, "axis": {"title": "L2 Div (log)", "values": [1], "labelExpr": "'10⁰'", "titleY": 64.7}}, "y2": {"field": "hi"}, "fill": {"field": "s", "type": "nominal", "scale": {"domain": ["Conf_0.5", "Unconf"], "range": ["#ff0000", "#008000"]}, "legend": null}}},
        {"mark": {"type": "line", "strokeWidth": 2.2}, "encoding": {"y": {"field": "y", "type": "quantitative", "title": "L2 Div (log)"}, "color": {"field": "s", "type": "nominal", "scale": {"domain": ["Unconf", "Conf_0.5"], "range": ["#008000", "#ff0000"]}, "legend": {"title": null}}}}
      ]
    },
    {
      "width": 199, "height": 136,
      "data": {"name": "d"},
      "transform": [{"filter": {"field": "m", "equal": "L2"}}, {"filter": {"field": "s", "oneOf": ["Unconf", "Conf_1.0"]}}],
      "encoding": {"x": {"field": "x", "type": "quantitative", "scale": {"domain": [-495, 10395], "nice": false, "zero": false}, "axis": {"title": "Iteration", "values": [0, 3000, 6000, 9000], "format": "d"}}},
      "layer": [
        {"mark": {"type": "area", "fillOpacity": 0.2}, "encoding": {"y": {"field": "lo", "type": "quantitative", "scale": {"type": "log", "domain": [0.279, 1.413], "nice": false}, "axis": {"title": "L2 Div (log)", "values": [1], "labelExpr": "'10⁰'", "titleY": 64.7}}, "y2": {"field": "hi"}, "fill": {"field": "s", "type": "nominal", "scale": {"domain": ["Conf_1.0", "Unconf"], "range": ["#ff0000", "#008000"]}, "legend": null}}},
        {"mark": {"type": "line", "strokeWidth": 2.2}, "encoding": {"y": {"field": "y", "type": "quantitative", "title": "L2 Div (log)"}, "color": {"field": "s", "type": "nominal", "scale": {"domain": ["Unconf", "Conf_1.0"], "range": ["#008000", "#ff0000"]}, "legend": {"title": null}}}}
      ]
    },
    {
      "width": 199, "height": 136,
      "data": {"name": "d"},
      "transform": [{"filter": {"field": "m", "equal": "L2"}}, {"filter": {"field": "s", "oneOf": ["Unconf", "Conf_1.5"]}}],
      "encoding": {"x": {"field": "x", "type": "quantitative", "scale": {"domain": [-495, 10395], "nice": false, "zero": false}, "axis": {"title": "Iteration", "values": [0, 3000, 6000, 9000], "format": "d"}}},
      "layer": [
        {"mark": {"type": "area", "fillOpacity": 0.2}, "encoding": {"y": {"field": "lo", "type": "quantitative", "scale": {"type": "log", "domain": [0.279, 1.413], "nice": false}, "axis": {"title": "L2 Div (log)", "values": [1], "labelExpr": "'10⁰'", "titleY": 64.7}}, "y2": {"field": "hi"}, "fill": {"field": "s", "type": "nominal", "scale": {"domain": ["Conf_1.5", "Unconf"], "range": ["#ff0000", "#008000"]}, "legend": null}}},
        {"mark": {"type": "line", "strokeWidth": 2.2}, "encoding": {"y": {"field": "y", "type": "quantitative", "title": "L2 Div (log)"}, "color": {"field": "s", "type": "nominal", "scale": {"domain": ["Unconf", "Conf_1.5"], "range": ["#008000", "#ff0000"]}, "legend": {"title": null}}}}
      ]
    },
    {
      "width": 199, "height": 136,
      "data": {"name": "d"},
      "transform": [{"filter": {"field": "m", "equal": "L2"}}, {"filter": {"field": "s", "oneOf": ["Unconf", "Conf_2.0"]}}],
      "encoding": {"x": {"field": "x", "type": "quantitative", "scale": {"domain": [-495, 10395], "nice": false, "zero": false}, "axis": {"title": "Iteration", "values": [0, 3000, 6000, 9000], "format": "d"}}},
      "layer": [
        {"mark": {"type": "area", "fillOpacity": 0.2}, "encoding": {"y": {"field": "lo", "type": "quantitative", "scale": {"type": "log", "domain": [0.279, 1.413], "nice": false}, "axis": {"title": "L2 Div (log)", "values": [1], "labelExpr": "'10⁰'", "titleY": 64.7}}, "y2": {"field": "hi"}, "fill": {"field": "s", "type": "nominal", "scale": {"domain": ["Conf_2.0", "Unconf"], "range": ["#ff0000", "#008000"]}, "legend": null}}},
        {"mark": {"type": "line", "strokeWidth": 2.2}, "encoding": {"y": {"field": "y", "type": "quantitative", "title": "L2 Div (log)"}, "color": {"field": "s", "type": "nominal", "scale": {"domain": ["Unconf", "Conf_2.0"], "range": ["#008000", "#ff0000"]}, "legend": {"title": null}}}}
      ]
    },
    {
      "width": 199, "height": 136,
      "data": {"name": "d"},
      "transform": [{"filter": {"field": "m", "equal": "Cos"}}, {"filter": {"field": "s", "oneOf": ["Unconf", "Conf_0.5"]}}],
      "encoding": {"x": {"field": "x", "type": "quantitative", "scale": {"domain": [-495, 10395], "nice": false, "zero": false}, "axis": {"title": "Iteration", "values": [0, 3000, 6000, 9000], "format": "d"}}},
      "layer": [
        {"mark": {"type": "area", "fillOpacity": 0.2}, "encoding": {"y": {"field": "lo", "type": "quantitative", "scale": {"domain": [-0.433, 1.084], "nice": false, "zero": false}, "axis": {"title": "Cos Div", "values": [0, 0.5, 1], "format": ".1f", "titleY": 68.8}}, "y2": {"field": "hi"}, "fill": {"field": "s", "type": "nominal", "scale": {"domain": ["Conf_0.5", "Unconf"], "range": ["#ff0000", "#008000"]}, "legend": null}}},
        {"mark": {"type": "line", "strokeWidth": 2.2}, "encoding": {"y": {"field": "y", "type": "quantitative", "title": "Cos Div"}, "color": {"field": "s", "type": "nominal", "scale": {"domain": ["Unconf", "Conf_0.5"], "range": ["#008000", "#ff0000"]}, "legend": {"title": null}}}}
      ]
    },
    {
      "width": 199, "height": 136,
      "data": {"name": "d"},
      "transform": [{"filter": {"field": "m", "equal": "Cos"}}, {"filter": {"field": "s", "oneOf": ["Unconf", "Conf_1.0"]}}],
      "encoding": {"x": {"field": "x", "type": "quantitative", "scale": {"domain": [-495, 10395], "nice": false, "zero": false}, "axis": {"title": "Iteration", "values": [0, 3000, 6000, 9000], "format": "d"}}},
      "layer": [
        {"mark": {"type": "area", "fillOpacity": 0.2}, "encoding": {"y": {"field": "lo", "type": "quantitative", "scale": {"domain": [-0.328, 1.072], "nice": false, "zero": false}, "axis": {"title": "Cos Div", "values": [0, 0.5, 1], "format": ".1f", "titleY": 68.8}}, "y2": {"field": "hi"}, "fill": {"field": "s", "type": "nominal", "scale": {"domain": ["Conf_1.0", "Unconf"], "range": ["#ff0000", "#008000"]}, "legend": null}}},
        {"mark": {"type": "line", "strokeWidth": 2.2}, "encoding": {"y": {"field": "y", "type": "quantitative", "title": "Cos Div"}, "color": {"field": "s", "type": "nominal", "scale": {"domain": ["Unconf", "Conf_1.0"], "range": ["#008000", "#ff0000"]}, "legend": {"title": null}}}}
      ]
    },
    {
      "width": 199, "height": 136,
      "data": {"name": "d"},
      "transform": [{"filter": {"field": "m", "equal": "Cos"}}, {"filter": {"field": "s", "oneOf": ["Unconf", "Conf_1.5"]}}],
      "encoding": {"x": {"field": "x", "type": "quantitative", "scale": {"domain": [-495, 10395], "nice": false, "zero": false}, "axis": {"title": "Iteration", "values": [0, 3000, 6000, 9000], "format": "d"}}},
      "layer": [
        {"mark": {"type": "area", "fillOpacity": 0.2}, "encoding": {"y": {"field": "lo", "type": "quantitative", "scale": {"domain": [-0.328, 1.072], "nice": false, "zero": false}, "axis": {"title": "Cos Div", "values": [0, 0.5, 1], "format": ".1f", "titleY": 68.8}}, "y2": {"field": "hi"}, "fill": {"field": "s", "type": "nominal", "scale": {"domain": ["Conf_1.5", "Unconf"], "range": ["#ff0000", "#008000"]}, "legend": null}}},
        {"mark": {"type": "line", "strokeWidth": 2.2}, "encoding": {"y": {"field": "y", "type": "quantitative", "title": "Cos Div"}, "color": {"field": "s", "type": "nominal", "scale": {"domain": ["Unconf", "Conf_1.5"], "range": ["#008000", "#ff0000"]}, "legend": {"title": null}}}}
      ]
    },
    {
      "width": 199, "height": 136,
      "data": {"name": "d"},
      "transform": [{"filter": {"field": "m", "equal": "Cos"}}, {"filter": {"field": "s", "oneOf": ["Unconf", "Conf_2.0"]}}],
      "encoding": {"x": {"field": "x", "type": "quantitative", "scale": {"domain": [-495, 10395], "nice": false, "zero": false}, "axis": {"title": "Iteration", "values": [0, 3000, 6000, 9000], "format": "d"}}},
      "layer": [
        {"mark": {"type": "area", "fillOpacity": 0.2}, "encoding": {"y": {"field": "lo", "type": "quantitative", "scale": {"domain": [-0.328, 1.072], "nice": false, "zero": false}, "axis": {"title": "Cos Div", "values": [0, 0.5, 1], "format": ".1f", "titleY": 68.8}}, "y2": {"field": "hi"}, "fill": {"field": "s", "type": "nominal", "scale": {"domain": ["Conf_2.0", "Unconf"], "range": ["#ff0000", "#008000"]}, "legend": null}}},
        {"mark": {"type": "line", "strokeWidth": 2.2}, "encoding": {"y": {"field": "y", "type": "quantitative", "title": "Cos Div"}, "color": {"field": "s", "type": "nominal", "scale": {"domain": ["Unconf", "Conf_2.0"], "range": ["#008000", "#ff0000"]}, "legend": {"title": null}}}}
      ]
    }
  ],
  "config": {
    "font": "DejaVu Sans",
    "view": {"stroke": "#262626", "strokeWidth": 1.25},
    "axis": {
      "domain": false, "grid": false, "ticks": true,
      "tickSize": 4.5, "tickWidth": 1.25, "tickColor": "#262626",
      "labelFont": "DejaVu Sans", "labelFontSize": 15, "labelColor": "#000000", "labelPadding": 0.5,
      "titleFont": "DejaVu Sans", "titleFontSize": 20.7, "titleFontWeight": "normal", "titleColor": "#000000"
    },
    "axisX": {"labelFlush": false, "titleY": 38.3, "titleBaseline": "alphabetic", "labelOverlap": false},
    "axisY": {"titleX": -38, "titleBaseline": "alphabetic", "titleAlign": "center", "titleAngle": -90},
    "legend": {
      "orient": "top-right", "offset": 8.5, "padding": 7.5,
      "fillColor": "rgba(255,255,255,0.8)", "strokeColor": "#cccccc", "cornerRadius": 3,
      "labelFont": "DejaVu Sans", "labelFontSize": 17.8, "labelColor": "#000000",
      "symbolType": "M-2.1,0H2.1", "symbolSize": 324, "symbolStrokeWidth": 2.6,
      "symbolOffset": 8.4, "labelOffset": 22.4, "rowPadding": 6
    }
  }
}
